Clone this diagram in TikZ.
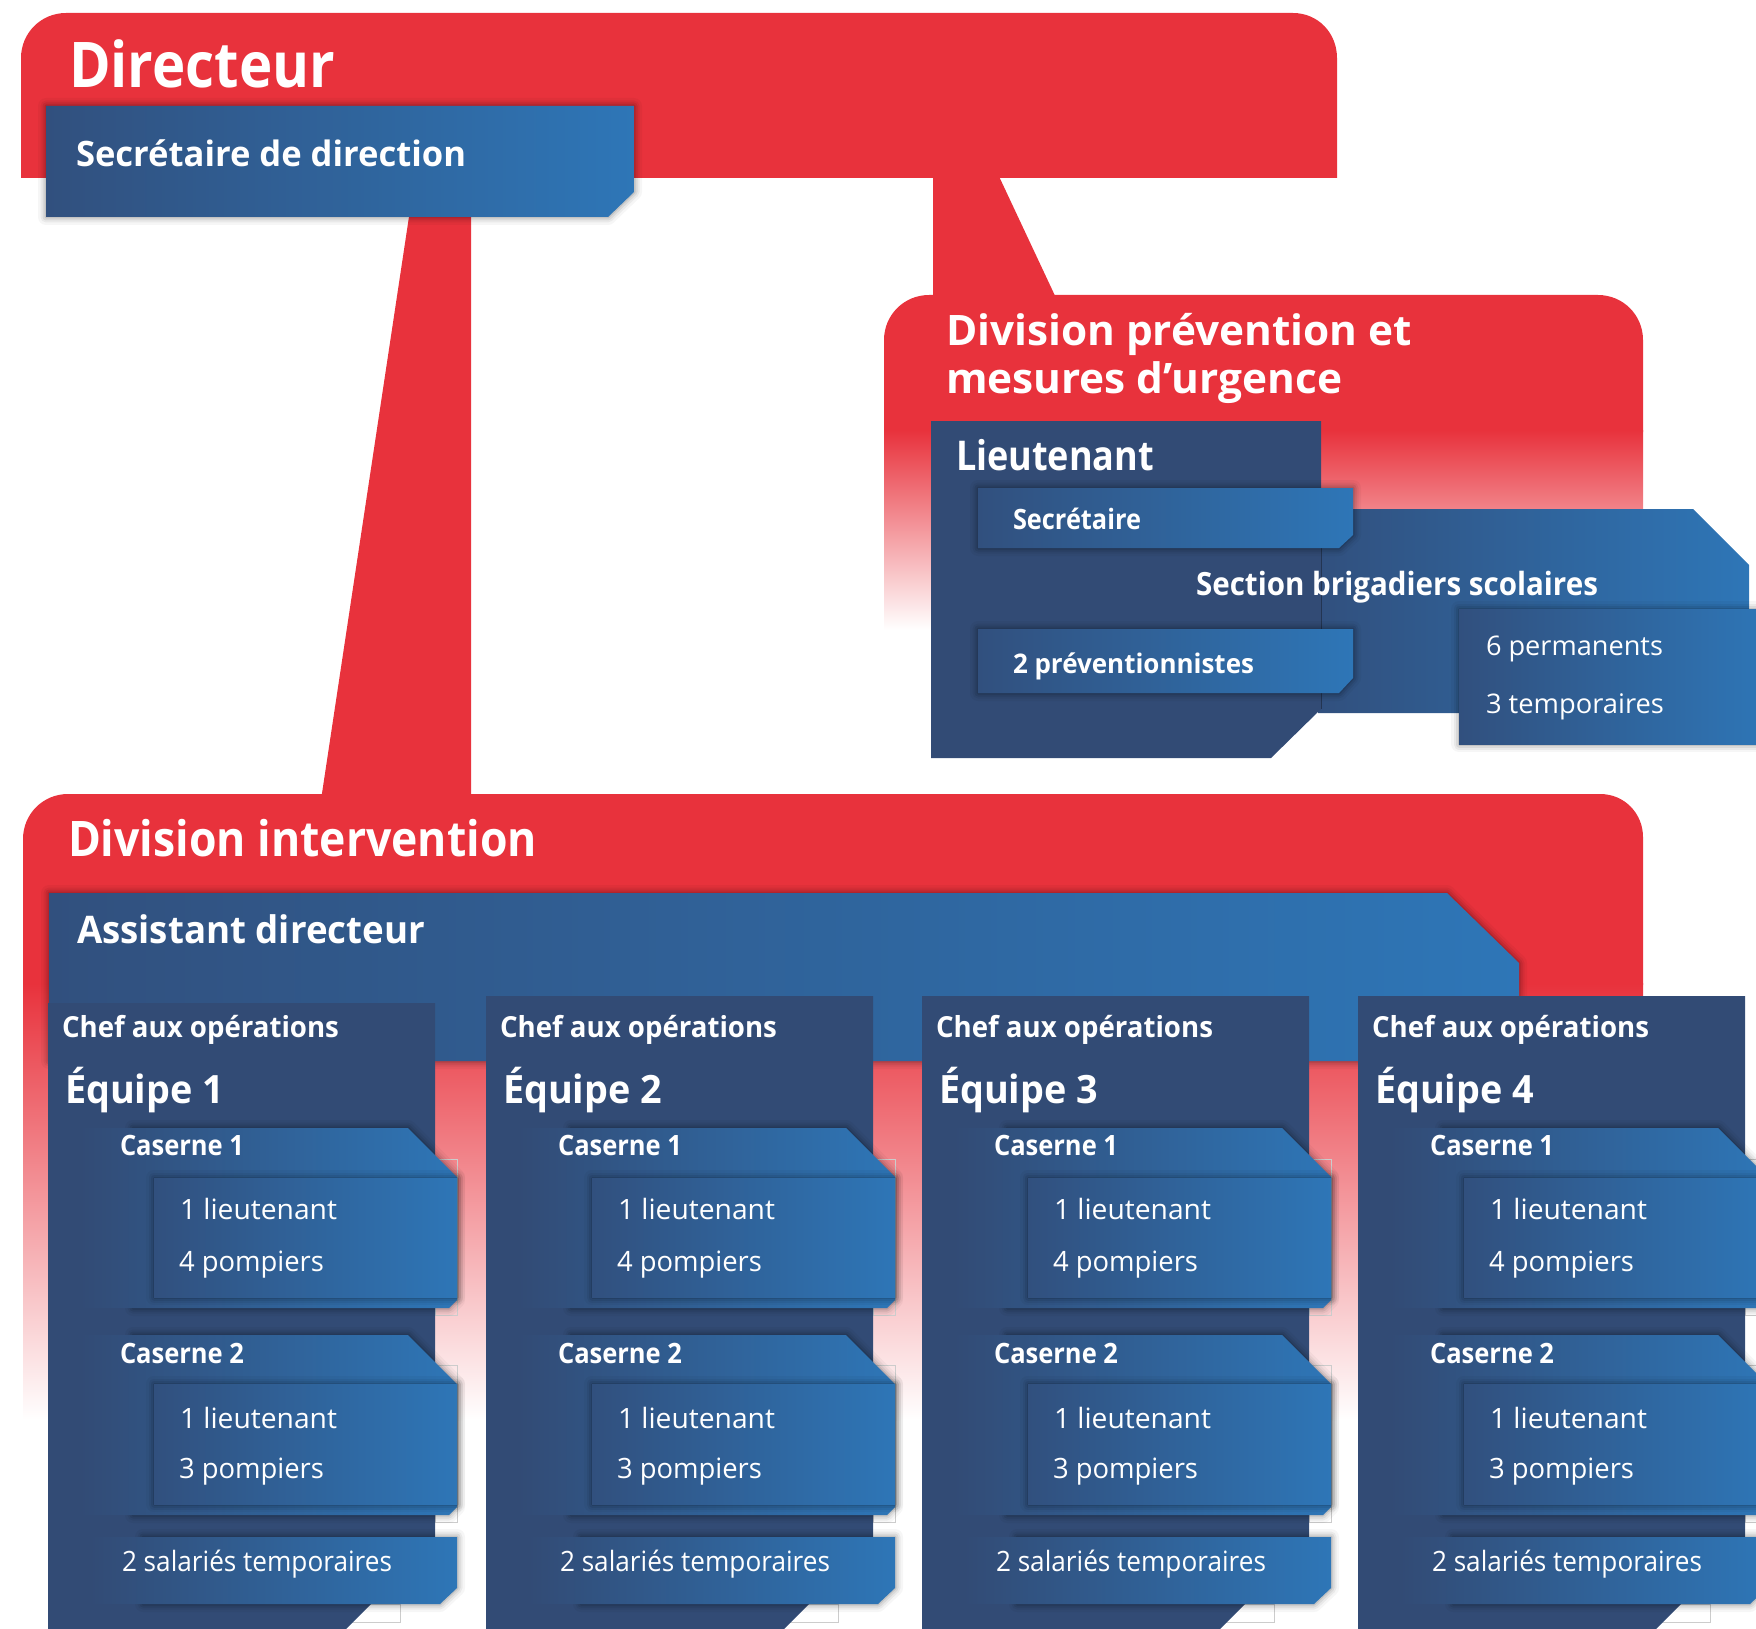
\documentclass[tikz,border=0pt]{standalone}
\usepackage{fontspec}
\setmainfont{Open Sans}
\usepackage{graphicx}
\definecolor{fred}{HTML}{E8323C}
\definecolor{dblue}{HTML}{324B75}
\definecolor{lblue}{HTML}{2E76B7}
\definecolor{mblue}{HTML}{31507E}
\newcommand{\fw}[2]{\resizebox{#1pt}{\height}{#2}}
\newcommand{\glow}[1]{%
  \draw[line width=16pt, black, opacity=0.035, line join=round, line cap=round] #1;
  \draw[line width=11pt, black, opacity=0.05, line join=round, line cap=round] #1;
  \draw[line width=7pt, black, opacity=0.07, line join=round, line cap=round] #1;
  \draw[line width=3pt, black, opacity=0.10, line join=round, line cap=round] #1;}
\tikzset{
  lbl/.style={text=white, inner sep=0pt, outer sep=0pt, anchor=base west},
  fb/.style={lbl, font=\bfseries\fontsize{#1}{#1}\selectfont},
  fr/.style={lbl, font=\fontsize{#1}{#1}\selectfont},
  frame/.style={draw=gray!40, line width=0.8pt},
  grad/.style={left color=mblue, right color=lblue},
  gradd/.style={left color=dblue, right color=lblue}
}
\newcommand{\team}[3]{%
\begin{scope}[shift={(#1,0)}]
  \draw[frame] (387,1159) rectangle (409,1315);
  \draw[frame] (387,1365) rectangle (409,1522);
  \draw[frame] (298,1604) rectangle (352,1622);
  \fill[dblue] (0,#2) -- (387,#2) -- (387,1540) -- (298,1629) -- (0,1629) -- cycle;
  % caserne 1
  \glow{(85,1128) -- (360,1128) -- (409,1177) -- (409,1300) -- (401,1308) -- (85,1308)}
  \shade[gradd] (32,1128) -- (360,1128) -- (409,1177) -- (409,1300) -- (401,1308) -- (32,1308) -- cycle;
  \glow{(106,1178) -- (409,1178) -- (409,1297) -- (106,1297) -- cycle}
  \shade[grad] (106,1178) rectangle (409,1297);
  % caserne 2
  \glow{(85,1335) -- (360,1335) -- (409,1384) -- (409,1507) -- (401,1515) -- (85,1515)}
  \shade[gradd] (32,1335) -- (360,1335) -- (409,1384) -- (409,1507) -- (401,1515) -- (32,1515) -- cycle;
  \glow{(106,1384) -- (409,1384) -- (409,1504) -- (106,1504) -- cycle}
  \shade[grad] (106,1384) rectangle (409,1504);
  % salaries
  \glow{(95,1537) -- (409,1537) -- (409,1588) -- (392,1604) -- (95,1604)}
  \shade[gradd] (42,1537) -- (409,1537) -- (409,1588) -- (392,1604) -- (42,1604) -- cycle;
  \node[fb=29] (chef#3) at (14,1037) {\fw{277}{Chef aux opérations}};
  \node[fb=39] (eq#3) at (17,1103) {\fw{159}{Équipe #3}};
  \node[fb=28] (casa#3) at (72,1155) {\fw{124}{Caserne 1}};
  \node[fr=28] (lta#3) at (132,1219) {\fw{157}{1 lieutenant}};
  \node[fr=28] (ppa#3) at (131,1271) {\fw{145}{4 pompiers}};
  \node[fb=28] (casb#3) at (72,1363) {\fw{124}{Caserne 2}};
  \node[fr=28] (ltb#3) at (132,1428) {\fw{157}{1 lieutenant}};
  \node[fr=28] (ppb#3) at (131,1478) {\fw{145}{3 pompiers}};
  \node[fr=28] (sal#3) at (74,1571) {\fw{270}{2 salariés temporaires}};
\end{scope}}
\begin{document}
\begin{tikzpicture}[x=1pt,y=-1pt]
\useasboundingbox (0,0) rectangle (1756,1629);
\clip (0,0) rectangle (1756,1629);
% ---------- Directeur
\fill[fred] (21,178) -- (21,58) .. controls (21,33) and (41,13) .. (66,13) -- (1293,13) .. controls (1318,13) and (1337,33) .. (1337,58) -- (1337,178) -- cycle;
% connectors
\coordinate (ca1) at (410,210);
\coordinate (ca2) at (471,210);
\coordinate (ca3) at (471,800);
\coordinate (ca4) at (321,800);
\fill[fred] (ca1) -- (ca2) -- (ca3) -- (ca4) -- cycle;
\coordinate (cb1) at (933,170);
\coordinate (cb2) at (996,170);
\coordinate (cb3) at (1057,300);
\coordinate (cb4) at (933,300);
\fill[fred] (cb1) -- (cb2) -- (cb3) -- (cb4) -- cycle;
% secretaire de direction
\glow{(46,106) -- (634,106) -- (634,192) -- (608,217) -- (46,217) -- cycle}
\shade[grad] (46,106) -- (634,106) -- (634,192) -- (608,217) -- (46,217) -- cycle;
\node[fb=63] (dir) at (69,88) {\fw{266}{Directeur}};
\node[fb=35] (secdir) at (76,167) {\fw{390}{Secrétaire de direction}};
% ---------- Division prevention
\fill[fred] (884,432) -- (884,340) .. controls (884,315) and (904,295) .. (929,295) -- (1598,295) .. controls (1623,295) and (1643,315) .. (1643,340) -- (1643,432) -- cycle;
\shade[top color=fred, bottom color=white] (884,430) rectangle (1643,630);
\shade[grad] (1318,509) -- (1693,509) -- (1749,565) -- (1749,713) -- (1318,713) -- cycle;
\fill[dblue] (931,421) -- (1321,421) -- (1321,709) -- (1271,758) -- (931,758) -- cycle;
\draw[black!30!dblue, line width=0.7pt] (1321,548) -- (1321,709);
\glow{(978,488) -- (1353,488) -- (1353,535) -- (1339,548) -- (978,548) -- cycle}
\shade[grad] (978,488) -- (1353,488) -- (1353,535) -- (1339,548) -- (978,548) -- cycle;
\glow{(978,629) -- (1353,629) -- (1353,678) -- (1339,693) -- (978,693) -- cycle}
\shade[grad] (978,629) -- (1353,629) -- (1353,678) -- (1339,693) -- (978,693) -- cycle;
\glow{(1459,609) -- (1770,609) -- (1770,744) -- (1459,744) -- cycle}
\shade[grad] (1459,609) rectangle (1770,744);
\node[fb=42] (divp1) at (946,345) {\fw{466}{Division prévention et}};
\node[fb=42] (divp2) at (946,393) {\fw{396}{mesures d’urgence}};
\node[fb=41] (lieut) at (956,470) {\fw{198}{Lieutenant}};
\node[fb=28] (secp) at (1013,529) {\fw{128}{Secrétaire}};
\node[fb=32] (sect) at (1196,595) {\fw{402}{Section brigadiers scolaires}};
\node[fb=27] (prev) at (1013,673) {\fw{241}{2 préventionnistes}};
\node[fr=27] (perm) at (1486,655) {\fw{177}{6 permanents}};
\node[fr=27] (temp) at (1486,713) {\fw{178}{3 temporaires}};
% ---------- Division intervention
\fill[fred] (23,985) -- (23,839) .. controls (23,814) and (43,794) .. (68,794) -- (1600,794) .. controls (1625,794) and (1643,814) .. (1643,837) -- (1643,985) -- cycle;
\shade[top color=fred, bottom color=white] (23,983) rectangle (1643,1420);
\glow{(49,893) -- (1447,893) -- (1519,963) -- (1519,1061) -- (49,1061) -- cycle}
\shade[grad] (49,893) -- (1447,893) -- (1519,963) -- (1519,1061) -- (49,1061) -- cycle;
\node[fb=49] (divi) at (68,856) {\fw{469}{Division intervention}};
\node[fb=38] (assist) at (77,943) {\fw{348}{Assistant directeur}};
\team{48}{1003}{1}
\team{486}{996}{2}
\team{922}{996}{3}
\team{1358}{996}{4}
\end{tikzpicture}
\end{document}
